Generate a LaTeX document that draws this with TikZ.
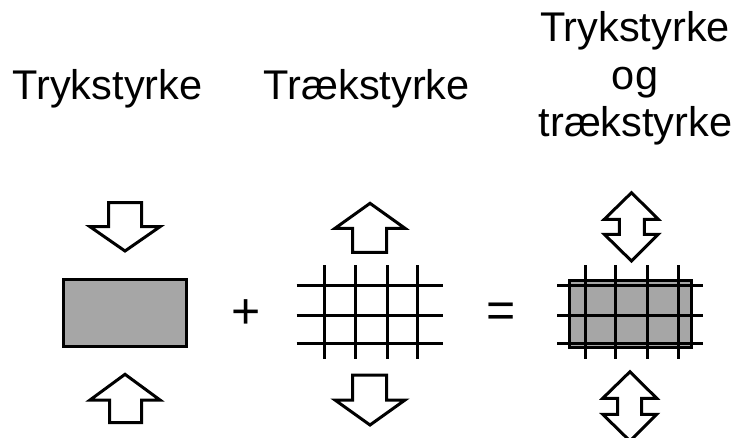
\documentclass[tikz,border=0pt]{standalone}
\usepackage{fontspec}
\setmainfont{Liberation Sans}
\definecolor{boxgray}{RGB}{166,166,166}
\begin{document}
\begin{tikzpicture}[x=1pt,y=-1pt,
  lbl/.style={anchor=base,inner sep=0pt,font=\fontsize{41.5}{48}\selectfont},
  sym/.style={inner sep=0pt,font=\fontsize{50}{56}\selectfont},
  arr/.style={draw=black,fill=white,line width=3pt,line join=miter},
  box/.style={draw=black,fill=boxgray,line width=3pt,line join=miter},
  gline/.style={draw=black,line width=3pt}]
\useasboundingbox (0,0) rectangle (738,437);
\clip (0,0) rectangle (738,437);
% labels
\node[lbl] (t1) at (107.5,99.3) {Trykstyrke};
\node[lbl] (t2) at (366.7,99.3) {Trækstyrke};
\node[lbl] (t3a) at (635,41.7) {Trykstyrke};
\node[lbl] (t3b) at (635,89.5) {og};
\node[lbl] (t3c) at (635.5,136.5) {trækstyrke};
\node[sym] (plus) at (246,313.7) {+};
\node[sym] (eq) at (501,315) {=};
% panel 1
\path[arr] (108.5,202.7) -- (141.5,202.7) -- (141.5,226.7) -- (160,226.7) -- (125,251) -- (90,226.7) -- (108.5,226.7) -- cycle;
\path[box] (63.3,279) rectangle (186.7,346.7);
\path[arr] (125,374.3) -- (160,400) -- (141.5,400) -- (141.5,422.7) -- (109.5,422.7) -- (109.5,400) -- (90,400) -- cycle;
% panel 2
\path[arr] (370,203.3) -- (405,228.3) -- (386.7,228.3) -- (386.7,252.3) -- (352.7,252.3) -- (352.7,228.3) -- (335,228.3) -- cycle;
\foreach \yy in {285,315,343.3} \draw[gline] (296.7,\yy) -- (442.7,\yy);
\foreach \xx in {324.3,355.7,387.3,417.7} \draw[gline] (\xx,265) -- (\xx,359);
\path[arr] (352.7,375) -- (386.7,375) -- (386.7,400) -- (405,400) -- (370,425) -- (335,400) -- (352.7,400) -- cycle;
% panel 3
\path[arr] (631.5,192.7) -- (658.3,219.3) -- (644.3,219.3) -- (644.3,234.3) -- (658.3,234.3) -- (631.5,261) -- (604.3,234.3) -- (619.3,234.3) -- (619.3,219.3) -- (604.3,219.3) -- cycle;
\path[box] (569,280.7) rectangle (691.7,347.3);
\foreach \yy in {285,315,343.3} \draw[gline] (557.3,\yy) -- (702.7,\yy);
\foreach \xx in {585,615.7,647.3,678} \draw[gline] (\xx,265) -- (\xx,359);
\path[arr] (630,371.7) -- (656.7,398.3) -- (641.7,398.3) -- (641.7,414.3) -- (656.7,414.3) -- (630,441) -- (602.7,414.3) -- (617.7,414.3) -- (617.7,398.3) -- (602.7,398.3) -- cycle;
\end{tikzpicture}
\end{document}
